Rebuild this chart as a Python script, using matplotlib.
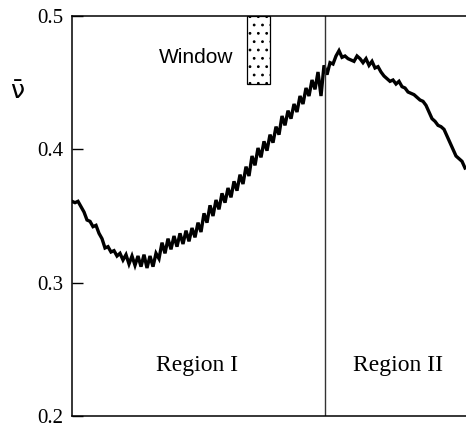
import numpy as np
import matplotlib
matplotlib.use("Agg")
import matplotlib.pyplot as plt
from matplotlib.patches import Rectangle

# mean value nu-bar sampled along the (unlabelled) horizontal axis
nu = [0.361, 0.360, 0.361, 0.357, 0.353, 0.347, 0.346, 0.342, 0.343, 0.337,
      0.333, 0.326, 0.327, 0.323, 0.324, 0.320, 0.322, 0.317, 0.321, 0.314,
      0.320, 0.313, 0.320, 0.312, 0.321, 0.311, 0.320, 0.312, 0.322, 0.318,
      0.330, 0.322, 0.333, 0.325, 0.335, 0.327, 0.337, 0.329, 0.339, 0.331,
      0.341, 0.334, 0.345, 0.338, 0.352, 0.345, 0.358, 0.350, 0.362, 0.355,
      0.367, 0.360, 0.371, 0.364, 0.376, 0.369, 0.381, 0.374, 0.387, 0.380,
      0.395, 0.388, 0.401, 0.394, 0.406, 0.399, 0.411, 0.405, 0.417, 0.411,
      0.425, 0.418, 0.429, 0.423, 0.434, 0.428, 0.440, 0.434, 0.446, 0.440,
      0.452, 0.445, 0.458, 0.440, 0.463, 0.456, 0.465, 0.464, 0.470, 0.474,
      0.469, 0.470, 0.468, 0.467, 0.466, 0.470, 0.468, 0.465, 0.468, 0.463,
      0.466, 0.461, 0.462, 0.458, 0.455, 0.453, 0.451, 0.452, 0.449, 0.451,
      0.447, 0.446, 0.443, 0.442, 0.441, 0.439, 0.437, 0.436, 0.433, 0.428,
      0.423, 0.421, 0.418, 0.417, 0.415, 0.410, 0.405, 0.400, 0.395, 0.393,
      0.391, 0.386]
t = np.arange(len(nu))

yticks = [0.2, 0.3, 0.4, 0.5]
ytick_labels = ["0.2", "0.3", "0.4", "0.5"]
boundary = 84.33          # border between Region I and Region II
window = (58.3, 66.0)     # horizontal extent of the window
window_bottom = 0.449
regions = ["Region I", "Region II"]
region_centers = [41.8, 108.7]

fig = plt.figure(figsize=(4.66, 4.24), dpi=100)
ax = fig.add_axes([72/466, 8/424, 394/466, 400/424])
ax.plot(t, nu, color="black", lw=2.4, solid_joinstyle="miter")
ax.set_xlim(0, 131.33)
ax.set_ylim(0.2, 0.5)

ax.axvline(boundary, color="#333333", lw=1.0)
plt.rcParams["hatch.linewidth"] = 0.8
ax.add_patch(Rectangle((window[0], window_bottom), window[1] - window[0],
                       0.5 - window_bottom, facecolor="white",
                       edgecolor="black", lw=0.9, hatch="..", zorder=3))

ax.spines["right"].set_visible(False)
for s in ["left", "top", "bottom"]:
    ax.spines[s].set_linewidth(1.1)

ax.set_xticks([])
ax.set_yticks(yticks)
ax.set_yticklabels(ytick_labels, fontfamily="Liberation Serif", fontsize=15)
ax.tick_params(axis="y", direction="in", length=8, width=1.0, pad=6)

ax.text(-18.3, 0.444, "\u03bd\u0304", fontsize=18, ha="center",
        va="center", fontfamily="DejaVu Sans")
ax.text(41.3, 0.469, "Window", fontfamily="Liberation Sans", fontsize=15,
        ha="center", va="center")
for lab, cx in zip(regions, region_centers):
    ax.text(cx, 0.238, lab, fontfamily="Liberation Serif", fontsize=17,
            ha="center", va="center")

fig.savefig("out.png", dpi=100)
